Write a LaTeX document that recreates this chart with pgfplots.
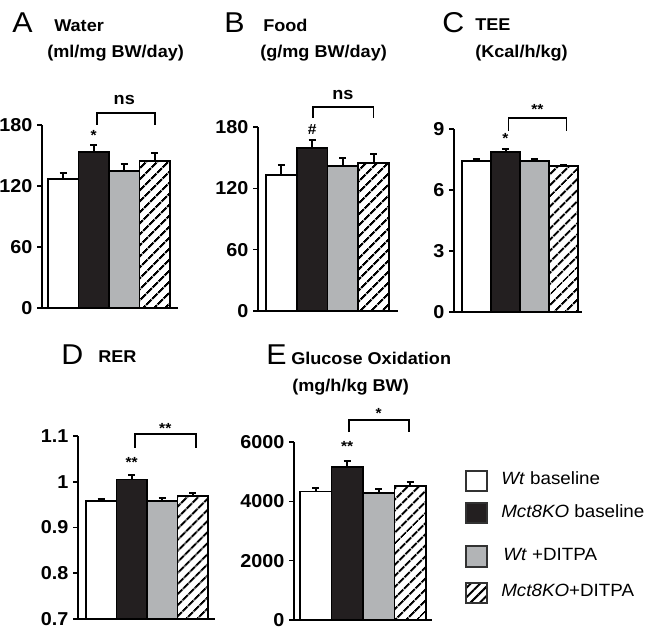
\documentclass[border=0pt]{standalone}
\usepackage{pgfplots}
\pgfplotsset{compat=1.18}
\usetikzlibrary{patterns.meta}
\usepackage{fontspec}
\setmainfont[FakeStretch=1.06]{Liberation Sans}
\definecolor{barblack}{RGB}{35,31,32}
\definecolor{bargray}{RGB}{178,180,182}
\definecolor{legbord}{RGB}{50,50,50}
\newcommand{\tickfont}{\bfseries\fontsize{14}{16}\selectfont}
\newcommand{\titfont}{\bfseries\fontsize{12.8}{14}\selectfont}
\newcommand{\letfont}{\fontsize{21.5}{24}\selectfont}
\newcommand{\starfont}{\bfseries\fontsize{11}{12}\selectfont}
\pgfplotsset{
  panel/.style={scale only axis, anchor=south west,
    axis x line*=bottom, axis y line*=left,
    axis line style={-, line width=1.15pt, black},
    xtick=\empty, tick align=outside, major tick length=3.75pt,
    every tick/.style={black, line width=1.15pt},
    yticklabel style={font=\tickfont},
    ybar, bar width=1, bar shift=0pt, clip mode=individual},
  errs/.style={error bars/.cd, y dir=plus, y explicit,
    error bar style={line width=1.5pt, black},
    error mark options={rotate=90, mark size=2.7pt, line width=1.5pt, black}},
  wbar/.style={draw=black, fill=white, line width=1.4pt, errs},
  kbar/.style={draw=black, fill=barblack, line width=1.4pt, errs},
  gbar/.style={draw=black, fill=bargray, line width=1.4pt, errs},
  hbar/.style={draw=black, line width=1.4pt, pattern={Lines[angle=45,distance=6.5pt,line width=1.7pt]}, errs},
}
\begin{document}
\begin{tikzpicture}
\path[use as bounding box] (0,0) rectangle (486.75pt,472.5pt);
% ---------- A ----------
\begin{axis}[panel, at={(31.5pt,241.5pt)}, width=102pt, height=137.25pt,
  xmin=0.303, xmax=4.762, ymin=0, ymax=180, ytick={0,60,120,180}, yticklabels={0,60,120,180}]
\addplot[wbar] coordinates {(1,126.9) +- (0,6)};
\addplot[kbar] coordinates {(2,153.4) +- (0,7)};
\addplot[gbar] coordinates {(3,134.7) +- (0,7)};
\addplot[hbar] coordinates {(4,144.6) +- (0,8)};
\draw[line width=1.3pt] (axis cs:2.1,180) |- (axis cs:4,192) -- (axis cs:4,180);
\node[font=\titfont] at (axis cs:3,205) {ns};
\node[font=\starfont] at (axis cs:2,170) {*};
\end{axis}
% ---------- B ----------
\begin{axis}[panel, at={(193.5pt,239.25pt)}, width=105pt, height=138pt,
  xmin=0.240, xmax=4.793, ymin=0, ymax=180, ytick={0,60,120,180}, yticklabels={0,60,120,180}]
\addplot[wbar] coordinates {(1,133) +- (0,10)};
\addplot[kbar] coordinates {(2,159.5) +- (0,8)};
\addplot[gbar] coordinates {(3,141.8) +- (0,8)};
\addplot[hbar] coordinates {(4,144.8) +- (0,9)};
\draw[line width=1.3pt] (axis cs:2.03,188.8) |- (axis cs:4,199.6) -- (axis cs:4,188.8);
\node[font=\titfont] at (axis cs:3,211) {ns};
\node[font=\starfont] at (axis cs:2,178) {\#};
\end{axis}
% ---------- C ----------
\begin{axis}[panel, at={(340.5pt,238.5pt)}, width=96pt, height=137.25pt,
  xmin=0.224, xmax=4.638, ymin=0, ymax=9, ytick={0,3,6,9}, yticklabels={0,3,6,9}]
\addplot[wbar] coordinates {(1,7.43) +- (0,0.10)};
\addplot[kbar] coordinates {(2,7.87) +- (0,0.13)};
\addplot[gbar] coordinates {(3,7.42) +- (0,0.12)};
\addplot[hbar] coordinates {(4,7.18) +- (0,0.07)};
\draw[line width=1.3pt] (axis cs:2.1,8.9) |- (axis cs:4.1,9.54) -- (axis cs:4.1,8.9);
\node[font=\starfont] at (axis cs:3.1,9.98) {**};
\node[font=\starfont] at (axis cs:2,8.55) {*};
\end{axis}
% ---------- D ----------
\begin{axis}[panel, at={(58.5pt,8.25pt)}, width=102.75pt, height=137.25pt,
  xmin=0.238, xmax=4.73, ymin=0.7, ymax=1.1, ytick={0.7,0.8,0.9,1,1.1}, yticklabels={0.7,0.8,0.9,1,1.1}]
\addplot[wbar] coordinates {(1,0.957) +- (0,0.005)};
\addplot[kbar] coordinates {(2,1.005) +- (0,0.010)};
\addplot[gbar] coordinates {(3,0.957) +- (0,0.008)};
\addplot[hbar] coordinates {(4,0.969) +- (0,0.007)};
\draw[line width=1.3pt] (axis cs:2.1,1.074) |- (axis cs:4.1,1.105) -- (axis cs:4.1,1.074);
\node[font=\starfont] at (axis cs:3.1,1.116) {**};
\node[font=\starfont] at (axis cs:2,1.042) {**};
\end{axis}
% ---------- E ----------
\begin{axis}[panel, at={(220.5pt,7.5pt)}, width=103.5pt, height=133.5pt,
  xmin=0.310, xmax=4.691, ymin=0, ymax=6000, ytick={0,2000,4000,6000}, yticklabels={0,2000,4000,6000}]
\addplot[wbar] coordinates {(1,4330) +- (0,120)};
\addplot[kbar] coordinates {(2,5160) +- (0,190)};
\addplot[gbar] coordinates {(3,4270) +- (0,130)};
\addplot[hbar] coordinates {(4,4530) +- (0,110)};
\draw[line width=1.3pt] (axis cs:2.05,6333) |- (axis cs:3.96,6733) -- (axis cs:3.96,6333);
\node[font=\starfont] at (axis cs:3,6950) {*};
\node[font=\starfont] at (axis cs:2,5850) {**};
\end{axis}
% ---------- titles ----------
\node[anchor=base west, inner sep=0, font=\letfont] at (9pt,447.75pt) {A};
\node[anchor=base west, inner sep=0, font=\titfont] at (40.5pt,448.5pt) {Water};
\node[anchor=base west, inner sep=0, font=\titfont] at (35.25pt,429pt) {(ml/mg BW/day)};
\node[anchor=base west, inner sep=0, font=\letfont] at (168pt,447.75pt) {B};
\node[anchor=base west, inner sep=0, font=\titfont] at (197.25pt,448.5pt) {Food};
\node[anchor=base west, inner sep=0, font=\titfont] at (195pt,429pt) {(g/mg BW/day)};
\node[anchor=base west, inner sep=0, font=\letfont] at (331.5pt,447.75pt) {C};
\node[anchor=base west, inner sep=0, font=\titfont] at (356.25pt,449.25pt) {TEE};
\node[anchor=base west, inner sep=0, font=\titfont] at (356.25pt,429pt) {(Kcal/h/kg)};
\node[anchor=base west, inner sep=0, font=\letfont] at (45.75pt,198.75pt) {D};
\node[anchor=base west, inner sep=0, font=\titfont] at (73.5pt,200.25pt) {RER};
\node[anchor=base west, inner sep=0, font=\letfont] at (199.5pt,198.75pt) {E};
\node[anchor=base west, inner sep=0, font=\titfont] at (218.25pt,198.75pt) {Glucose Oxidation};
\node[anchor=base west, inner sep=0, font=\titfont] at (219pt,178.5pt) {(mg/h/kg BW)};
% ---------- legend ----------
\begin{scope}[line width=1.5pt, draw=legbord]
\draw[fill=white] (349.5pt,104.25pt) rectangle (365.25pt,119.25pt);
\draw[fill=barblack] (349.5pt,80.25pt) rectangle (365.25pt,95.25pt);
\draw[fill=bargray] (349.5pt,47.25pt) rectangle (365.25pt,63pt);
\draw[pattern={Lines[angle=45,distance=5pt,line width=1.5pt]}] (349.5pt,20.25pt) rectangle (365.25pt,35.25pt);
\end{scope}
\begin{scope}[every node/.style={anchor=base west, inner sep=0, font=\fontsize{13.3}{15}\selectfont}]
\node at (375.75pt,108.75pt) {\textit{Wt} baseline};
\node at (375.75pt,84pt) {\textit{Mct8KO} baseline};
\node at (377.25pt,51.75pt) {\textit{Wt} +DITPA};
\node at (375.75pt,24.75pt) {\textit{Mct8KO}+DITPA};
\end{scope}
\end{tikzpicture}
\end{document}
